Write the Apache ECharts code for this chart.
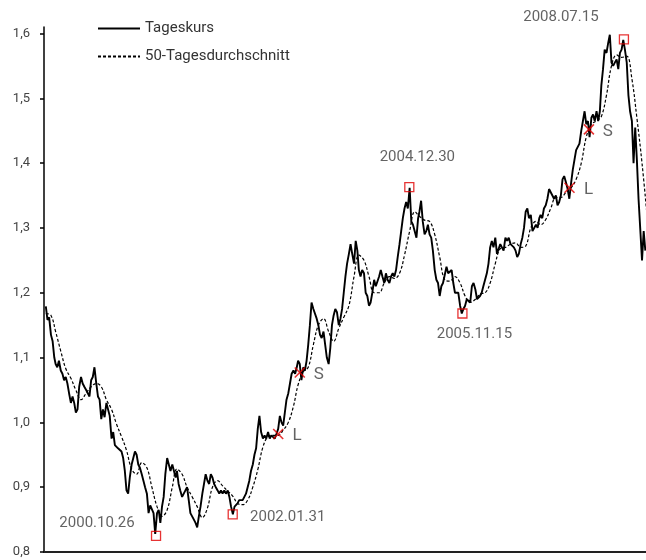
<!DOCTYPE html>
<html>
<head>
<meta charset="utf-8">
<script src="https://cdn.jsdelivr.net/npm/echarts@6/dist/echarts.min.js"></script>
<style>
  html, body { margin: 0; padding: 0; background: #fff; }
  #chart { width: 646px; height: 560px; }
</style>
</head>
<body>
<div id="chart"></div>
<script>
// Tageskurs, read at the 1st, 11th and 21st of every month
var kurs1999 = [1.179, 1.158, 1.162, 1.135, 1.125, 1.100, 1.090, 1.085, 1.095, 1.080, 1.075, 1.065,
  1.070, 1.060, 1.045, 1.030, 1.040, 1.030, 1.015, 1.020, 1.055, 1.070, 1.060, 1.055,
  1.050, 1.045, 1.040, 1.065, 1.070, 1.085, 1.060, 1.040, 1.035, 1.005, 1.020, 1.008];
var kurs2000 = [1.030, 1.030, 1.010, 0.975, 0.985, 0.965, 0.965, 0.960, 0.962, 0.955, 0.945, 0.925,
  0.895, 0.890, 0.915, 0.935, 0.945, 0.955, 0.950, 0.935, 0.930, 0.920, 0.910, 0.900,
  0.890, 0.860, 0.872, 0.870, 0.860, 0.828, 0.860, 0.865, 0.845, 0.870, 0.885, 0.920];
var kurs2001 = [0.945, 0.945, 0.925, 0.935, 0.925, 0.915, 0.925, 0.905, 0.895, 0.885, 0.890, 0.895,
  0.900, 0.880, 0.860, 0.860, 0.850, 0.845, 0.838, 0.855, 0.870, 0.890, 0.905, 0.920,
  0.910, 0.905, 0.920, 0.915, 0.905, 0.900, 0.895, 0.890, 0.895, 0.890, 0.895, 0.890];
var kurs2002 = [0.895, 0.885, 0.870, 0.858, 0.870, 0.870, 0.875, 0.880, 0.880, 0.880, 0.885, 0.890,
  0.900, 0.910, 0.925, 0.935, 0.950, 0.960, 0.990, 1.010, 0.985, 0.975, 0.980, 0.975,
  0.985, 0.975, 0.980, 0.980, 0.975, 0.982, 0.990, 1.010, 1.000, 0.995, 1.015, 1.035];
var kurs2003 = [1.045, 1.060, 1.075, 1.080, 1.075, 1.085, 1.095, 1.090, 1.065, 1.085, 1.080, 1.095,
  1.120, 1.150, 1.185, 1.175, 1.175, 1.160, 1.150, 1.135, 1.130, 1.140, 1.120, 1.100,
  1.090, 1.115, 1.150, 1.165, 1.175, 1.170, 1.150, 1.160, 1.175, 1.200, 1.225, 1.245];
var kurs2004 = [1.260, 1.275, 1.260, 1.245, 1.280, 1.265, 1.235, 1.225, 1.235, 1.230, 1.200, 1.195,
  1.180, 1.185, 1.200, 1.220, 1.210, 1.210, 1.225, 1.235, 1.225, 1.215, 1.230, 1.220,
  1.215, 1.225, 1.230, 1.225, 1.235, 1.255, 1.275, 1.295, 1.315, 1.330, 1.340, 1.330];
var kurs2005 = [1.362, 1.310, 1.305, 1.305, 1.285, 1.315, 1.325, 1.342, 1.310, 1.290, 1.295, 1.305,
  1.290, 1.285, 1.265, 1.235, 1.220, 1.215, 1.195, 1.210, 1.215, 1.215, 1.240, 1.230,
  1.230, 1.235, 1.215, 1.200, 1.200, 1.200, 1.180, 1.168, 1.175, 1.180, 1.190, 1.190];
var kurs2006 = [1.185, 1.210, 1.215, 1.205, 1.190, 1.190, 1.195, 1.200, 1.210, 1.210, 1.230, 1.245,
  1.270, 1.280, 1.270, 1.285, 1.260, 1.260, 1.275, 1.270, 1.265, 1.285, 1.280, 1.285,
  1.275, 1.275, 1.270, 1.265, 1.255, 1.260, 1.275, 1.285, 1.300, 1.325, 1.330, 1.315];
var kurs2007 = [1.320, 1.295, 1.295, 1.305, 1.300, 1.315, 1.320, 1.315, 1.330, 1.335, 1.345, 1.360,
  1.355, 1.350, 1.345, 1.350, 1.335, 1.340, 1.350, 1.375, 1.380, 1.370, 1.360, 1.345,
  1.370, 1.390, 1.405, 1.420, 1.420, 1.430, 1.450, 1.465, 1.480, 1.460, 1.465, 1.440];
var kurs2008 = [1.470, 1.475, 1.465, 1.480, 1.465, 1.480, 1.520, 1.545, 1.575, 1.570, 1.585, 1.598,
  1.555, 1.550, 1.555, 1.560, 1.545, 1.570, 1.575, 1.590, 1.575, 1.555, 1.505, 1.480,
  1.465, 1.400, 1.455, 1.405, 1.345, 1.300, 1.250, 1.295, 1.265];

// 50-Tagesdurchschnitt, read at the 1st of every month
var schnitt1999 = [1.168, 1.165, 1.140, 1.110, 1.083, 1.068, 1.050, 1.035, 1.045, 1.055, 1.060, 1.055];
var schnitt2000 = [1.035, 1.020, 0.998, 0.978, 0.957, 0.928, 0.920, 0.938, 0.930, 0.900, 0.870, 0.855];
var schnitt2001 = [0.865, 0.900, 0.928, 0.920, 0.900, 0.885, 0.870, 0.853, 0.868, 0.900, 0.910, 0.902];
var schnitt2002 = [0.894, 0.886, 0.875, 0.873, 0.880, 0.900, 0.927, 0.962, 0.978, 0.980, 0.980, 0.988];
var schnitt2003 = [1.000, 1.025, 1.058, 1.078, 1.085, 1.120, 1.150, 1.160, 1.140, 1.125, 1.145, 1.162];
var schnitt2004 = [1.180, 1.225, 1.258, 1.250, 1.225, 1.200, 1.200, 1.215, 1.225, 1.222, 1.230, 1.258];
var schnitt2005 = [1.295, 1.325, 1.318, 1.312, 1.310, 1.290, 1.255, 1.220, 1.218, 1.225, 1.215, 1.195];
var schnitt2006 = [1.185, 1.190, 1.198, 1.200, 1.215, 1.245, 1.268, 1.270, 1.275, 1.277, 1.270, 1.272];
var schnitt2007 = [1.300, 1.310, 1.305, 1.313, 1.330, 1.347, 1.347, 1.355, 1.362, 1.375, 1.400, 1.440];
var schnitt2008 = [1.460, 1.465, 1.472, 1.505, 1.550, 1.567, 1.563, 1.565, 1.530, 1.470, 1.400, 1.320];

var startYear = 1999;
var kursYears = [kurs1999, kurs2000, kurs2001, kurs2002, kurs2003, kurs2004, kurs2005, kurs2006, kurs2007, kurs2008];
var schnittYears = [schnitt1999, schnitt2000, schnitt2001, schnitt2002, schnitt2003, schnitt2004, schnitt2005, schnitt2006, schnitt2007, schnitt2008];

// marked extremes and signals
var extremaDates = ['2000-10-26', '2002-01-31', '2004-12-30', '2005-11-15', '2008-07-15'];
var extremaValues = [0.825, 0.858, 1.363, 1.168, 1.591];
var extremaLabels = ['2000.10.26', '2002.01.31', '2004.12.30', '2005.11.15', '2008.07.15'];
var signalDates = ['2002-11-01', '2003-03-11', '2007-08-22', '2007-12-17'];
var signalValues = [0.982, 1.077, 1.362, 1.452];
var signalLabels = ['L', 'S', 'L', 'S'];

var yTicks = [0.8, 0.9, 1.0, 1.1, 1.2, 1.3, 1.4, 1.5, 1.6];

function pad(n) {
  return n < 10 ? '0' + n : '' + n;
}

var slotDays = [1, 11, 21];
var kursData = [];
kursYears.forEach(function (arr, yi) {
  arr.forEach(function (v, i) {
    var m = Math.floor(i / 3) + 1;
    kursData.push([(startYear + yi) + '-' + pad(m) + '-' + pad(slotDays[i % 3]), v]);
  });
});

var schnittData = [];
schnittYears.forEach(function (arr, yi) {
  arr.forEach(function (v, i) {
    schnittData.push([(startYear + yi) + '-' + pad(i + 1) + '-01', v]);
  });
});

// label placement around each marker
var extremaOffsets = [[-59, -13], [55, 3], [8, -30], [12, 21], [-63, -22]];

var extremaData = extremaDates.map(function (d, i) {
  return {
    value: [d, extremaValues[i]],
    label: { formatter: extremaLabels[i], offset: extremaOffsets[i] }
  };
});
var signalData = signalDates.map(function (d, i) {
  return {
    value: [d, signalValues[i]],
    label: { formatter: signalLabels[i] }
  };
});

var font = 'Roboto';
var chart = echarts.init(document.getElementById('chart'));
chart.setOption({
  animation: false,
  backgroundColor: '#fff',
  textStyle: { fontFamily: font },
  grid: { left: 44, right: 0, top: 27, bottom: 8 },
  legend: {
    data: ['Tageskurs', '50-Tagesdurchschnitt'],
    orient: 'vertical',
    left: 97,
    top: 21,
    padding: 0,
    itemWidth: 42,
    itemHeight: 14,
    itemGap: 13,
    itemStyle: { opacity: 0 },
    textStyle: { fontSize: 15, color: '#333', fontFamily: font }
  },
  xAxis: {
    type: 'time',
    min: '1998-12-21',
    max: '2008-11-25',
    axisLine: { lineStyle: { color: '#222', width: 2 } },
    axisTick: { show: false },
    axisLabel: { show: false },
    splitLine: { show: false }
  },
  yAxis: {
    type: 'value',
    min: 0.8,
    max: 1.61,
    interval: 0.1,
    axisLine: { show: true, lineStyle: { color: '#000', width: 1.5 } },
    axisTick: { show: true, length: 4, customValues: yTicks, lineStyle: { color: '#000', width: 1.5 } },
    axisLabel: {
      customValues: yTicks,
      margin: 14,
      fontSize: 13,
      color: '#444',
      fontFamily: font,
      formatter: function (v) {
        if (Math.abs(v * 10 - Math.round(v * 10)) > 1e-6) return '';
        return v.toFixed(1).replace('.', ',');
      }
    },
    splitLine: { show: false }
  },
  series: [
    {
      name: '50-Tagesdurchschnitt',
      type: 'line',
      data: schnittData,
      symbol: 'none',
      smooth: 0.4,
      itemStyle: { color: '#000' },
      lineStyle: { color: '#000', width: 1.2, type: [3, 2] },
      z: 2
    },
    {
      name: 'Tageskurs',
      type: 'line',
      data: kursData,
      symbol: 'none',
      itemStyle: { color: '#000' },
      lineStyle: { color: '#000', width: 1.9 },
      z: 3
    },
    {
      name: 'extrema',
      type: 'scatter',
      data: extremaData,
      symbol: 'rect',
      symbolSize: 9,
      itemStyle: { color: 'rgba(0,0,0,0)', borderColor: '#e00000', borderWidth: 1.3 },
      label: { show: true, position: 'inside', fontSize: 15, color: '#3c3c3c', fontFamily: font },
      emphasis: { disabled: true },
      z: 5
    },
    {
      name: 'signals',
      type: 'scatter',
      data: signalData,
      symbol: 'path://M0,0L10,10M10,0L0,10',
      symbolSize: 10,
      itemStyle: { color: 'none', borderColor: '#e00000', borderWidth: 1.6 },
      label: { show: true, position: 'inside', offset: [19, 2], fontSize: 17, color: '#3c3c3c', fontFamily: font },
      emphasis: { disabled: true },
      z: 5
    }
  ]
});
</script>
</body>
</html>
